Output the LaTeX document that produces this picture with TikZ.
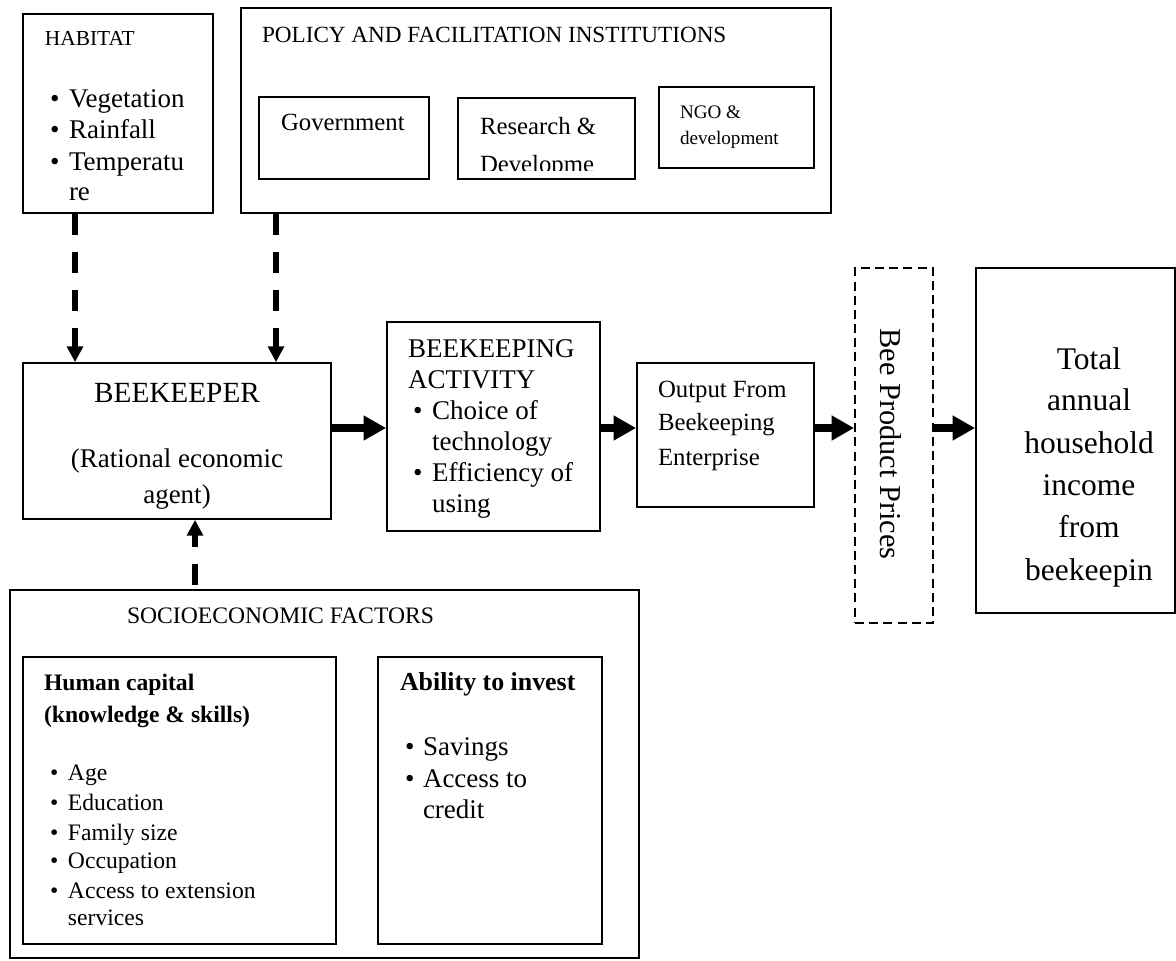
\documentclass[tikz,border=0pt]{standalone}
\usepackage{fontspec}
\setmainfont{Liberation Serif}
\usetikzlibrary{arrows.meta,fit}
\newcommand\fsz[2]{\fontsize{#1}{#2}\selectfont}
\begin{document}
\begin{tikzpicture}[x=0.4444pt,y=-0.4444pt,
  box/.style={draw, line width=0.8pt, inner sep=0pt},
  dbox/.style={draw, line width=0.8pt, dash pattern=on 4pt off 2.3pt, inner sep=0pt},
  txt/.style={anchor=base west, inner sep=0pt, outer sep=0pt},
  ctxt/.style={anchor=base, inner sep=0pt, outer sep=0pt},
  flow/.style={line width=3.6pt, -{Triangle[length=10pt,width=10.5pt]}},
  infl/.style={line width=2.7pt, dash pattern=on 9.3pt off 7.6pt, -{Triangle[length=7pt,width=7pt]}}
]
\useasboundingbox (0,0) rectangle (1176,960);

% boxes
\node[box, fit={(23,14) (213,213)}] (hab) {};
\node[box, fit={(241,8) (831,213)}] (pol) {};
\node[box, fit={(259,97) (429,179)}] (gov) {};
\node[box, fit={(458,98) (635,179)}] (res) {};
\node[box, fit={(659,87) (814,168)}] (ngo) {};
\node[box, fit={(23,363) (331,519)}] (bk) {};
\node[box, fit={(387,322) (600,531)}] (act) {};
\node[box, fit={(637,363) (814,507)}] (out) {};
\node[dbox, fit={(855,268) (933,623)}] (bee) {};
\node[box, fit={(976,268) (1175,613)}] (tot) {};
\node[box, fit={(10,590) (639,958)}] (soc) {};
\node[box, fit={(23,657) (336,944)}] (hum) {};
\node[box, fit={(378,657) (602,944)}] (abl) {};

% habitat
\node[txt] (habt) at (45,45) {\fsz{9.5}{11}HABITAT};
\foreach \t/\y/\n in {Vegetation/107/1, Rainfall/138/2, Temperatu/170/3}{
  \node[txt] (hb\n) at (50,\y) {\fsz{12}{14}•};
  \node[txt] (ht\n) at (69,\y) {\fsz{12}{14}\t};
}
\node[txt] (ht4) at (69,200) {\fsz{12}{14}re};

% policy
\node[txt] (polt) at (262,42) {\fsz{10.3}{12}POLICY AND FACILITATION INSTITUTIONS};
\node[txt] (govt) at (281,130) {\fsz{11}{13}Government};
\node[txt] (rest) at (480,134) {\fsz{11}{13}Research \&};
\begin{scope}
  \clip (458,98) rectangle (635,170);
  \node[txt] (resd) at (480,172) {\fsz{11}{13}Developme};
\end{scope}
\node[txt] (ngot) at (680,118) {\fsz{8.5}{10}NGO \&};
\node[txt] (ngod) at (680,144) {\fsz{8.5}{10}development};

% beekeeper
\node[ctxt] (bkt) at (177,402) {\fsz{13}{15}BEEKEEPER};
\node[ctxt] (bkr) at (177,467) {\fsz{12}{14}(Rational economic};
\node[ctxt] (bka) at (177,503) {\fsz{12}{14}agent)};

% activity
\node[txt] (act1) at (408,357) {\fsz{12}{14}BEEKEEPING};
\node[txt] (act2) at (408,388) {\fsz{12}{14}ACTIVITY};
\node[txt] (actb1) at (413,419) {\fsz{12}{14}•};
\node[txt] (act3) at (432,419) {\fsz{12}{14}Choice of};
\node[txt] (act4) at (432,450) {\fsz{12}{14}technology};
\node[txt] (actb2) at (413,481) {\fsz{12}{14}•};
\node[txt] (act5) at (432,481) {\fsz{12}{14}Efficiency of};
\node[txt] (act6) at (432,512) {\fsz{12}{14}using};

% output
\node[txt] (out1) at (658,397) {\fsz{11}{13}Output From};
\node[txt] (out2) at (658,430) {\fsz{11}{13}Beekeeping};
\node[txt] (out3) at (658,465) {\fsz{11}{13}Enterprise};

% prices
\node[rotate=-90, inner sep=0pt] (beet) at (891,444) {\fsz{13.5}{15}Bee Product Prices};

% total
\foreach \t/\y/\n in {Total/369/1, annual/410/2, household/453/3, income/495/4, from/537/5, beekeepin/580/6}{
  \node[ctxt] (tt\n) at (1089,\y) {\fsz{14}{16}\t};
}

% socioeconomic
\node[txt] (soct) at (127,623) {\fsz{10.5}{12}SOCIOECONOMIC FACTORS};
\node[txt] (hum1) at (44,690) {\fsz{10.5}{12}\bfseries Human capital};
\node[txt] (hum2) at (44,722) {\fsz{10.5}{12}\bfseries (knowledge \& skills)};
\foreach \t/\y/\n in {Age/780/1, Education/810/2, Family size/840/3, Occupation/868/4, Access to extension/898/5}{
  \node[txt] (hub\n) at (50,\y) {\fsz{10.5}{12}•};
  \node[txt] (hut\n) at (68,\y) {\fsz{10.5}{12}\t};
}
\node[txt] (hut6) at (68,925) {\fsz{10.5}{12}services};
\node[txt] (abt) at (400,690) {\fsz{11.5}{13}\bfseries Ability to invest};
\node[txt] (abb1) at (405,755) {\fsz{12}{14}•};
\node[txt] (abt1) at (423,755) {\fsz{12}{14}Savings};
\node[txt] (abb2) at (405,787) {\fsz{12}{14}•};
\node[txt] (abt2) at (423,787) {\fsz{12}{14}Access to};
\node[txt] (abt3) at (423,818) {\fsz{12}{14}credit};

% connectors
\coordinate (ay) at (0,428);
\coordinate (c1) at (75,0);
\coordinate (c2) at (276,0);
\coordinate (c3) at (195,0);
\draw[flow] (bk.east |- ay) -- (act.west |- ay);
\draw[flow] (act.east |- ay) -- (out.west |- ay);
\draw[flow] (out.east |- ay) -- (bee.west |- ay);
\draw[flow] (bee.east |- ay) -- (tot.west |- ay);
\draw[infl] (hab.south -| c1) -- (bk.north -| c1);
\draw[infl] (pol.south -| c2) -- (bk.north -| c2);
\draw[infl, dash phase=15pt] (soc.north -| c3) -- (bk.south -| c3);
\end{tikzpicture}
\end{document}
